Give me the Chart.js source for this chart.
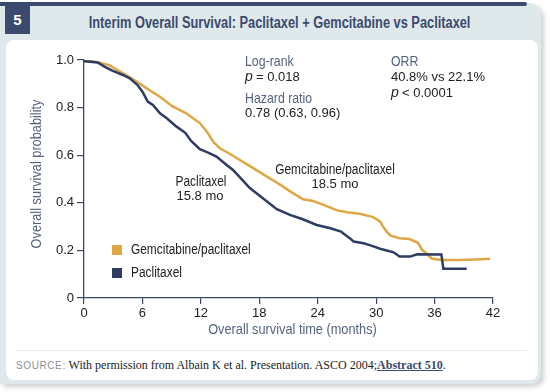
<!DOCTYPE html>
<html>
<head>
<meta charset="utf-8">
<script src="https://cdn.jsdelivr.net/npm/chart.js@4.4.1/dist/chart.umd.min.js"></script>
<style>
  body { margin: 0; width: 550px; height: 392px; background: #fff; position: relative; overflow: hidden; }
  .card { position: absolute; left: 0; top: 3px; width: 541px; height: 381px; background: #dfe8ea; border-radius: 0 12px 10px 0; box-shadow: 3px 3px 5px rgba(0,0,0,0.18); }
  .topbar { position: absolute; left: 0; top: 2px; width: 527px; height: 4px; background: #3b4a6e; border-radius: 0 3px 3px 0; }
  .num { position: absolute; left: 5px; top: 5px; width: 25px; height: 29px; background: #3b4a6e; color: #fff; font: bold 15px 'Liberation Sans', sans-serif; text-align: center; line-height: 29px; }
  .title { position: absolute; left: 30px; width: 500px; top: 14px; text-align: center; }
  .title span { display: inline-block; color: #3b4a6e; font: bold 16px 'Liberation Sans', sans-serif; transform: scaleX(0.8); transform-origin: center; white-space: nowrap; }
  .panel { position: absolute; left: 6px; top: 40px; width: 532px; height: 340px; background: #fff; border-radius: 8px; }
  .sep { position: absolute; left: 15px; top: 350px; width: 512px; height: 1px; background: #e6ecee; }
  .source { position: absolute; left: 16px; top: 358px; font: 12px 'Liberation Serif', serif; color: #222; white-space: nowrap; }
  .source .lbl { font: 10px 'Liberation Sans', sans-serif; color: #8b9099; letter-spacing: 0.6px; }
  .source u { font-weight: bold; color: #3b4a6e; }
  #chart { position: absolute; left: 0; top: 0; }
</style>
</head>
<body>
<div class="card"></div>
<div class="topbar"></div>
<div class="num">5</div>
<div class="title"><span>Interim Overall Survival: Paclitaxel + Gemcitabine vs Paclitaxel</span></div>
<div class="panel"></div>
<div class="sep"></div>
<div class="source"><span class="lbl">SOURCE:</span> With permission from Albain K et al. Presentation. ASCO 2004;<u>Abstract 510</u>.</div>
<canvas id="chart" width="550" height="392"></canvas>
<script>
// Данные кривых (месяцы / вероятность выживания)
const gemTime = [0, 1.5, 2.6, 4.0, 5.0, 6.4, 7.8, 9.1, 10.5, 11.2, 11.9, 12.6, 13.3, 14.0, 15.0, 16.0, 17.0, 18.0, 19.0, 20.2, 21.2, 22.5, 23.5, 24.6, 26.0, 27.0, 28.3, 29.7, 30.4, 30.7, 31.1, 31.5, 32.4, 33.4, 34.3, 34.7, 35.2, 35.7, 36.6, 38.6, 40.7, 41.7];
const gemSurv = [1.0, 0.99, 0.978, 0.944, 0.92, 0.882, 0.846, 0.805, 0.776, 0.755, 0.735, 0.70, 0.655, 0.628, 0.605, 0.58, 0.555, 0.53, 0.505, 0.475, 0.447, 0.415, 0.408, 0.391, 0.368, 0.36, 0.354, 0.34, 0.322, 0.30, 0.278, 0.262, 0.251, 0.248, 0.232, 0.203, 0.186, 0.166, 0.16, 0.16, 0.163, 0.165];

const pacTime = [0, 1.4, 2.1, 2.9, 4.0, 4.7, 5.5, 6.0, 6.55, 7.1, 7.8, 8.5, 9.5, 10.4, 11.0, 11.9, 12.8, 13.6, 14.65, 15.3, 16.4, 17.0, 18.4, 19.8, 21.15, 22.4, 23.9, 25.3, 26.4, 26.6, 27.3, 27.7, 28.7, 29.5, 30.4, 31.8, 32.4, 33.5, 34.2, 36.7, 36.9, 39.3];
const pacSurv = [0.995, 0.99, 0.972, 0.955, 0.937, 0.923, 0.895, 0.867, 0.825, 0.81, 0.776, 0.755, 0.72, 0.694, 0.66, 0.625, 0.61, 0.594, 0.559, 0.538, 0.49, 0.463, 0.418, 0.373, 0.349, 0.332, 0.307, 0.293, 0.279, 0.272, 0.251, 0.237, 0.23, 0.22, 0.207, 0.192, 0.174, 0.174, 0.184, 0.183, 0.123, 0.123];

const xTicks = [0, 6, 12, 18, 24, 30, 36, 42];
const yTicks = [0, 0.2, 0.4, 0.6, 0.8, 1.0];

const seriesNames = ['Paclitaxel', 'Gemcitabine/paclitaxel'];
const GOLD = '#dea743';
const NAVY = '#2f3c64';
const SLATE = '#56637f';
const AXIS = '#3a4768';

const toPoints = (t, v) => t.map((x, i) => ({ x: x, y: v[i] }));

// узкий текст: шрифт Liberation Sans, сжатый по горизонтали
function narrowText(ctx, str, x, y, size, align) {
    ctx.save();
    ctx.translate(x, y);
    ctx.scale(0.85, 1);
    ctx.textAlign = align;
    ctx.font = size + 'px "Liberation Sans"';
    ctx.fillText(str, 0, 0);
    ctx.restore();
}

// Подписи и легенда поверх графика
const annotations = {
    id: 'annotations',
    afterDraw(chart) {
        const ctx = chart.ctx;
        const area = chart.chartArea;
        ctx.save();
        ctx.textBaseline = 'middle';

        // статистика
        ctx.fillStyle = SLATE;
        narrowText(ctx, 'Log-rank', 245, 62, 14.5, 'left');
        narrowText(ctx, 'Hazard ratio', 245, 99, 14.5, 'left');
        narrowText(ctx, 'ORR', 391, 62, 14.5, 'left');

        ctx.fillStyle = '#222';
        ctx.textAlign = 'left';
        ctx.font = 'italic 14px "Liberation Sans"';
        ctx.fillText('p', 245, 77);
        ctx.fillText('p', 391, 93);
        ctx.font = '13px "Liberation Sans"';
        ctx.fillText('= 0.018', 256, 77);
        ctx.fillText('0.78 (0.63, 0.96)', 245, 113);
        ctx.fillText('40.8% vs 22.1%', 391, 77);
        ctx.fillText('< 0.0001', 402, 93);

        // подписи кривых
        narrowText(ctx, 'Gemcitabine/paclitaxel', 335, 170, 14, 'center');
        narrowText(ctx, 'Paclitaxel', 201, 182, 14, 'center');
        ctx.textAlign = 'center';
        ctx.font = '13px "Liberation Sans"';
        ctx.fillText('18.5 mo', 335, 184);
        ctx.fillText('15.8 mo', 200, 196);

        // легенда
        const ds = chart.data.datasets;
        [ds[1], ds[0]].forEach((d, i) => {
            const y = 250 + i * 23;
            ctx.fillStyle = d.borderColor;
            ctx.fillRect(112, y - 5, 10, 10);
            ctx.fillStyle = '#222';
            narrowText(ctx, d.label, 131, y, 14, 'left');
        });

        // названия осей
        ctx.fillStyle = SLATE;
        narrowText(ctx, 'Overall survival time (months)', (area.left + area.right) / 2 + 4, 330, 15, 'center');
        ctx.translate(37, 174);
        ctx.rotate(-Math.PI / 2);
        narrowText(ctx, 'Overall survival probability', 0, 0, 15, 'center');
        ctx.restore();
    }
};

const chart = new Chart(document.getElementById('chart'), {
    type: 'line',
    data: {
        datasets: [{
            label: seriesNames[0],
            data: toPoints(pacTime, pacSurv),
            borderColor: NAVY,
            backgroundColor: NAVY,
            borderWidth: 2.5,
            pointRadius: 0,
            tension: 0
        }, {
            label: seriesNames[1],
            data: toPoints(gemTime, gemSurv),
            borderColor: GOLD,
            backgroundColor: GOLD,
            borderWidth: 2.5,
            pointRadius: 0,
            tension: 0
        }]
    },
    options: {
        responsive: false,
        animation: false,
        devicePixelRatio: 1,
        layout: { padding: { left: 0, top: 60, right: 57, bottom: 0 } },
        plugins: {
            legend: { display: false },
            tooltip: { enabled: false }
        },
        scales: {
            x: {
                type: 'linear',
                min: 0,
                max: 42,
                afterBuildTicks: s => { s.ticks = xTicks.map(v => ({ value: v })); },
                afterFit: s => { s.height = 94; },
                grid: { drawOnChartArea: false, color: AXIS, tickLength: 6, lineWidth: 1.2 },
                border: { color: AXIS, width: 1.3 },
                ticks: { color: '#222', font: { family: 'Liberation Sans', size: 13 }, padding: 2, maxRotation: 0, autoSkip: false }
            },
            y: {
                min: 0,
                max: 1,
                afterBuildTicks: s => { s.ticks = yTicks.map(v => ({ value: v })); },
                afterFit: s => { s.width = 84; },
                grid: { drawOnChartArea: false, color: AXIS, tickLength: 7, lineWidth: 1.2 },
                border: { color: AXIS, width: 1.3 },
                ticks: {
                    color: '#222',
                    font: { family: 'Liberation Sans', size: 13 },
                    padding: 3,
                    callback: v => v === 0 ? '0' : v.toFixed(1)
                }
            }
        }
    },
    plugins: [annotations]
});
</script>
</body>
</html>
